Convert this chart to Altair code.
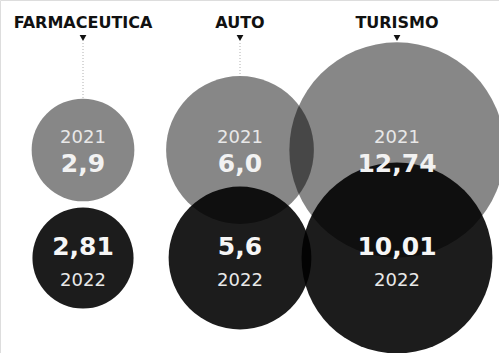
import altair as alt
import pandas as pd

categories = ["FARMACEUTICA", "AUTO", "TURISMO"]
years = ["2021", "2022"]
values_2021 = [2.9, 6.0, 12.74]
values_2022 = [2.81, 5.6, 10.01]
labels_2021 = ["2,9", "6,0", "12,74"]
labels_2022 = ["2,81", "5,6", "10,01"]

rows = []
for c, v, l in zip(categories, values_2021, labels_2021):
    rows.append({"cat": c, "year": "2021", "value": v, "label": l})
for c, v, l in zip(categories, values_2022, labels_2022):
    rows.append({"cat": c, "year": "2022", "value": v, "label": l})
df = pd.DataFrame(rows)
cats = pd.DataFrame({"cat": categories})

FONT = "DejaVu Sans"
xs = alt.X("cat:N", sort=categories, axis=None,
           scale=alt.Scale(type="point", range=[83, 397], padding=0))
ys = alt.Y("year:N", sort=years, axis=None,
           scale=alt.Scale(type="point", range=[150, 258], padding=0))
sz = alt.Size("value:Q", legend=None,
              scale=alt.Scale(type="linear", domain=[0, 12.74], range=[0, 3640 * 12.74]))

base = alt.Chart(df)

rule = alt.Chart(cats).mark_rule(color="#b0b0b0", strokeDash=[1, 2], strokeWidth=1).encode(
    x=xs, y=alt.value(43), y2=alt.value(150))
tri = alt.Chart(cats).mark_point(shape="triangle-down", filled=True, color="#111111",
                                 opacity=1, size=45).encode(x=xs, y=alt.value(38))
title = alt.Chart(cats).mark_text(font=FONT, fontWeight="bold", fontSize=16,
                                  color="#111111", baseline="alphabetic").encode(
    x=xs, y=alt.value(28), text="cat:N")

white = base.transform_filter("datum.year == '2021'").mark_circle(
    color="white", opacity=1).encode(x=xs, y=ys, size=sz)
gray = base.transform_filter("datum.year == '2021'").mark_circle(
    color="black", opacity=0.47).encode(x=xs, y=ys, size=sz)
black = base.transform_filter("datum.year == '2022'").mark_circle(
    color="black", opacity=0.89).encode(x=xs, y=ys, size=sz)

yr21 = base.transform_filter("datum.year == '2021'").mark_text(
    font=FONT, fontSize=18, color="#e8e8e8", baseline="alphabetic", dy=-7).encode(
    x=xs, y=ys, text="year:N")
val21 = base.transform_filter("datum.year == '2021'").mark_text(
    font=FONT, fontSize=25, fontWeight="bold", color="#f2f2f2", baseline="alphabetic", dy=22).encode(
    x=xs, y=ys, text="label:N")
val22 = base.transform_filter("datum.year == '2022'").mark_text(
    font=FONT, fontSize=25, fontWeight="bold", color="#f6f6f6", baseline="alphabetic", dy=-3).encode(
    x=xs, y=ys, text="label:N")
yr22 = base.transform_filter("datum.year == '2022'").mark_text(
    font=FONT, fontSize=18, color="#e8e8e8", baseline="alphabetic", dy=28).encode(
    x=xs, y=ys, text="year:N")

chart = alt.layer(rule, tri, title, white, gray, black, yr21, val21, val22, yr22).properties(
    width=499, height=353, padding=0, autosize=alt.AutoSizeParams(type="none")
).configure_view(stroke=None).configure(background="white")

chart.save("out.html", embed_options={"renderer": "svg", "actions": False})
